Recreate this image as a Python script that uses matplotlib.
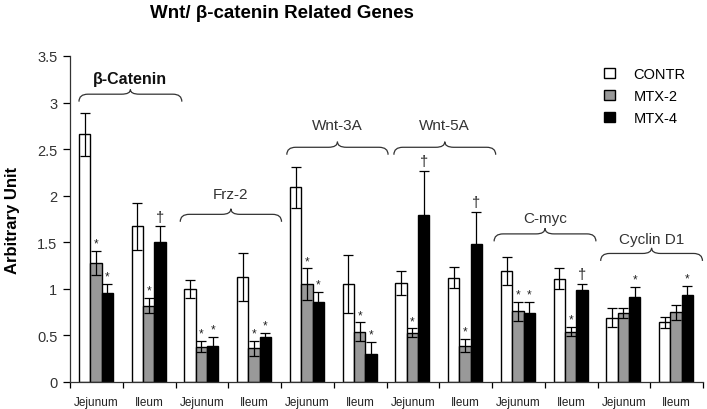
import matplotlib
matplotlib.use("Agg")
import matplotlib.pyplot as plt
from matplotlib.path import Path
from matplotlib.patches import PathPatch
import numpy as np

plt.rcParams['font.family'] = ['Liberation Sans', 'DejaVu Sans']

# ---- data ----
tissues = ["Jejunum", "Ileum"] * 6
genes = ["\u03b2-Catenin", "Frz-2", "Wnt-3A", "Wnt-5A", "C-myc", "Cyclin D1"]
series = ["CONTR", "MTX-2", "MTX-4"]

contr = [2.66, 1.67, 1.00, 1.13, 2.09, 1.05, 1.06, 1.12, 1.19, 1.11, 0.69, 0.64]
contr_err = [0.23, 0.25, 0.10, 0.26, 0.22, 0.31, 0.13, 0.11, 0.15, 0.11, 0.10, 0.06]
mtx2 = [1.28, 0.82, 0.38, 0.36, 1.05, 0.54, 0.53, 0.39, 0.76, 0.54, 0.74, 0.75]
mtx2_err = [0.13, 0.08, 0.06, 0.08, 0.17, 0.10, 0.045, 0.07, 0.10, 0.05, 0.05, 0.08]
mtx4 = [0.96, 1.50, 0.39, 0.48, 0.86, 0.30, 1.79, 1.48, 0.74, 0.99, 0.91, 0.93]
mtx4_err = [0.09, 0.17, 0.09, 0.05, 0.11, 0.13, 0.48, 0.35, 0.12, 0.06, 0.11, 0.10]

mtx2_marks = ["*", "*", "*", "*", "*", "*", "*", "*", "*", "*", "", ""]
mtx4_marks = ["*", "\u2020", "*", "*", "*", "*", "\u2020", "\u2020", "*", "\u2020", "*", "*"]

# ---- layout ----
# brace: (x0, x1, y_end, y_line, y_tip, label_y, bold)
braces = [
    (-0.33, 1.62, 3.01, 3.09, 3.14, 3.26, True),
    (1.59, 3.51, 1.72, 1.80, 1.86, 2.02, False),
    (3.61, 5.53, 2.44, 2.52, 2.58, 2.76, False),
    (5.64, 7.57, 2.44, 2.52, 2.58, 2.76, False),
    (7.54, 9.47, 1.51, 1.59, 1.65, 1.76, False),
    (9.56, 11.49, 1.30, 1.38, 1.44, 1.54, False),
]

fig = plt.figure(figsize=(7.07, 4.10), dpi=100)
ax = fig.add_axes([70 / 707, 27 / 410, 633 / 707, 326 / 410])

x = np.arange(len(tissues))
w = 0.215
offs = [-0.225, -0.01, 0.205]
colors = ["white", "#999999", "black"]
vals = [contr, mtx2, mtx4]
errs = [contr_err, mtx2_err, mtx4_err]
handles = []
for i in range(3):
    b = ax.bar(x + offs[i], vals[i], w, color=colors[i], edgecolor="black",
               linewidth=1.0, label=series[i], zorder=2)
    ax.errorbar(x + offs[i], vals[i], yerr=errs[i], fmt="none", ecolor="black",
                elinewidth=0.9, capsize=3.5, capthick=0.9, zorder=3)
    handles.append(b)

for marks, v, e, o in [(mtx2_marks, mtx2, mtx2_err, offs[1]), (mtx4_marks, mtx4, mtx4_err, offs[2])]:
    for k, m in enumerate(marks):
        if not m:
            continue
        fs = 8.5 if m == "*" else 10.5
        ax.annotate(m, (x[k] + o, v[k] + e[k]), xytext=(0, 1 if m == "*" else 2),
                    textcoords="offset points", ha="center", va="bottom",
                    fontsize=fs, color="#222222")

# braces
for (x0, x1, ye, yl, yt, ly, bold), g in zip(braces, genes):
    xm = (x0 + x1) / 2
    r = 0.17
    verts = [(x0, ye), (x0, yl), (x0 + r, yl),
             (xm - r, yl), (xm, yl), (xm, yt),
             (xm, yl), (xm + r, yl),
             (x1 - r, yl), (x1, yl), (x1, ye)]
    codes = [Path.MOVETO, Path.CURVE3, Path.CURVE3,
             Path.LINETO, Path.CURVE3, Path.CURVE3,
             Path.CURVE3, Path.CURVE3,
             Path.LINETO, Path.CURVE3, Path.CURVE3]
    ax.add_patch(PathPatch(Path(verts, codes), facecolor="none", edgecolor="#333333",
                           linewidth=0.9, clip_on=False))
    ax.text(xm, ly, g, ha="center", va="center", fontsize=11.5 if bold else 11,
            fontweight="bold" if bold else "normal", color="#111111" if bold else "#333333")

ax.set_xlim(-0.5, 11.5)
ax.set_ylim(0, 3.5)
ax.set_yticks(np.arange(0, 3.51, 0.5))
ax.set_yticklabels(["0", "0.5", "1", "1.5", "2", "2.5", "3", "3.5"], fontsize=10.5, color="#333333")
ax.set_xticks(np.arange(-0.5, 11.6, 1))
ax.set_xticklabels([])
ax.set_xticks(x, minor=True)
ax.set_xticklabels(tissues, minor=True, fontsize=8.5, color="#222222")
ax.tick_params(axis="x", which="major", length=4, direction="out", width=0.9)
ax.tick_params(axis="x", which="minor", length=0, pad=10)
ax.tick_params(axis="y", length=5, direction="out", width=0.9, pad=4)
for s in ["top", "right"]:
    ax.spines[s].set_visible(False)
for s in ["left", "bottom"]:
    ax.spines[s].set_linewidth(0.9)
    ax.spines[s].set_color("#333333")

ax.set_ylabel("Arbitrary Unit", fontsize=12, fontweight="bold", labelpad=12)

ax.legend(handles=handles, loc="upper left", bbox_to_anchor=(0.835, 0.985),
          frameon=False, fontsize=10.5, handlelength=0.7, handleheight=0.7,
          handletextpad=1.3, labelspacing=0.55, borderaxespad=0)

fig.text(281.5 / 707, 1 - 13 / 410, "Wnt/ \u03b2-catenin Related Genes", ha="center",
         va="center", fontsize=13.5, fontweight="bold")

fig.savefig("out.png", dpi=100)
